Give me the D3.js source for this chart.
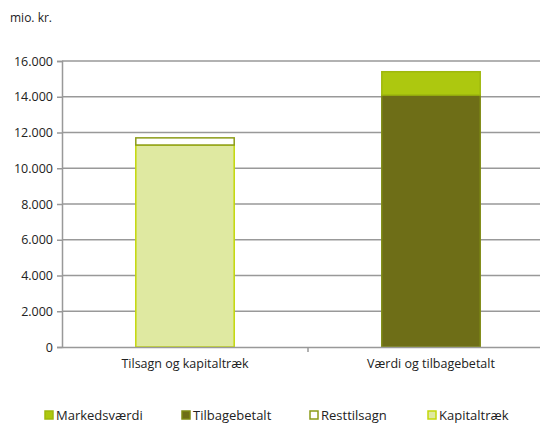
<!DOCTYPE html>
<html>
<head>
<meta charset="utf-8">
<script src="https://cdn.jsdelivr.net/npm/d3@7"></script>
<style>
	body { margin: 0; background: #fff; }
	text { font-family: "Open Sans", "Noto Sans", sans-serif; fill: #222; }
</style>
</head>
<body>
<div id="chart-area"></div>
<script>

// DATA

let categories = ["Tilsagn og kapitaltræk", "Værdi og tilbagebetalt"];
let seriesNames = ["Markedsværdi", "Tilbagebetalt", "Resttilsagn", "Kapitaltræk"];
let kapitaltraek = [11300, 0];
let resttilsagn = [400, 0];
let tilbagebetalt = [0, 14100];
let markedsvaerdi = [0, 1300];
let yTicks = [0, 2000, 4000, 6000, 8000, 10000, 12000, 14000, 16000];

// CHART AREA

let margin = {top: 61, right: -14, bottom: 78, left: 62},
	width = 540 - margin.left - margin.right,
	height = 425 - margin.top - margin.bottom;

let svg = d3.select("#chart-area").append("svg")
	.attr("width", 540)
	.attr("height", 425)
	.append("g")
	.attr("transform", "translate(" + margin.left + "," + margin.top + ")");

let band = d3.scaleBand().range([0, width]).domain(categories);

let yScale = d3.scaleLinear()
	.domain([0, 16000])
	.range([height, 0]);

let fmt = d => d3.format(",")(d).replace(/,/g, ".");

// gridlines
svg.selectAll(".grid")
	.data(yTicks.slice(1))
	.enter().append("line")
	.attr("x1", 0).attr("x2", width)
	.attr("y1", d => yScale(d)).attr("y2", d => yScale(d))
	.attr("stroke", "#999").attr("stroke-width", 1.5);

// stacks (bottom to top)
let stackSeries = [
	{name: "Kapitaltræk", values: kapitaltraek, fill: "#dfe9a1", stroke: "#c3d80a"},
	{name: "Resttilsagn", values: resttilsagn, fill: "#ffffff", stroke: "#8c9c18"},
	{name: "Tilbagebetalt", values: tilbagebetalt, fill: "#6e6e17", stroke: "#7f8a14"},
	{name: "Markedsværdi", values: markedsvaerdi, fill: "#adc80f", stroke: "#9fb80d"}
];

let bw = band.bandwidth() * 0.4;

categories.forEach(function(c, i) {
	let base = 0;
	stackSeries.forEach(function(s) {
		let v = s.values[i];
		if (v > 0) {
			svg.append("rect")
				.attr("x", band(c) + band.bandwidth() / 2 - bw / 2)
				.attr("y", yScale(base + v))
				.attr("width", bw)
				.attr("height", yScale(base) - yScale(base + v))
				.attr("fill", s.fill)
				.attr("stroke", s.stroke)
				.attr("stroke-width", 1.5);
		}
		base += v;
	});
});

// axes
let yAxis = d3.axisLeft(yScale).tickValues(yTicks).tickFormat(fmt).tickSize(5).tickPadding(4);
let yAxisGroup = svg.append("g").call(yAxis);
yAxisGroup.select(".domain").attr("stroke", "#999").attr("stroke-width", 1.5);
yAxisGroup.selectAll(".tick line").attr("stroke", "#999").attr("stroke-width", 1.5);
yAxisGroup.selectAll("text").style("font-size", "12.5px").attr("fill", "#222");

let xAxis = d3.axisBottom(band).tickSize(0).tickPadding(12);
let xAxisGroup = svg.append("g")
	.attr("transform", "translate(0," + height + ")")
	.call(xAxis);
xAxisGroup.select(".domain").attr("stroke", "#999").attr("stroke-width", 1.5);
xAxisGroup.selectAll("text").style("font-size", "12.5px").attr("fill", "#222");

// category separator ticks
svg.selectAll(".sep")
	.data(categories.slice(1))
	.enter().append("line")
	.attr("x1", d => band(d)).attr("x2", d => band(d))
	.attr("y1", height).attr("y2", height + 5)
	.attr("stroke", "#999").attr("stroke-width", 1.5);

// unit label
svg.append("text")
	.attr("x", 10 - margin.left)
	.attr("y", 22 - margin.top)
	.style("font-size", "12px")
	.text("mio. kr.");

// legend
let legendX = [45, 182, 310, 428];
let legend = svg.selectAll(".legend")
	.data(seriesNames)
	.enter().append("g")
	.attr("transform", (d, i) => "translate(" + (legendX[i] - margin.left) + "," + (411 - margin.top) + ")");

legend.append("rect")
	.attr("width", 8).attr("height", 8)
	.attr("fill", d => stackSeries.find(s => s.name === d).fill)
	.attr("stroke", d => stackSeries.find(s => s.name === d).stroke)
	.attr("stroke-width", 1.5);

legend.append("text")
	.attr("x", 11)
	.attr("y", 8.5)
	.style("font-size", "13px")
	.text(d => d);

</script>
</body>
</html>
